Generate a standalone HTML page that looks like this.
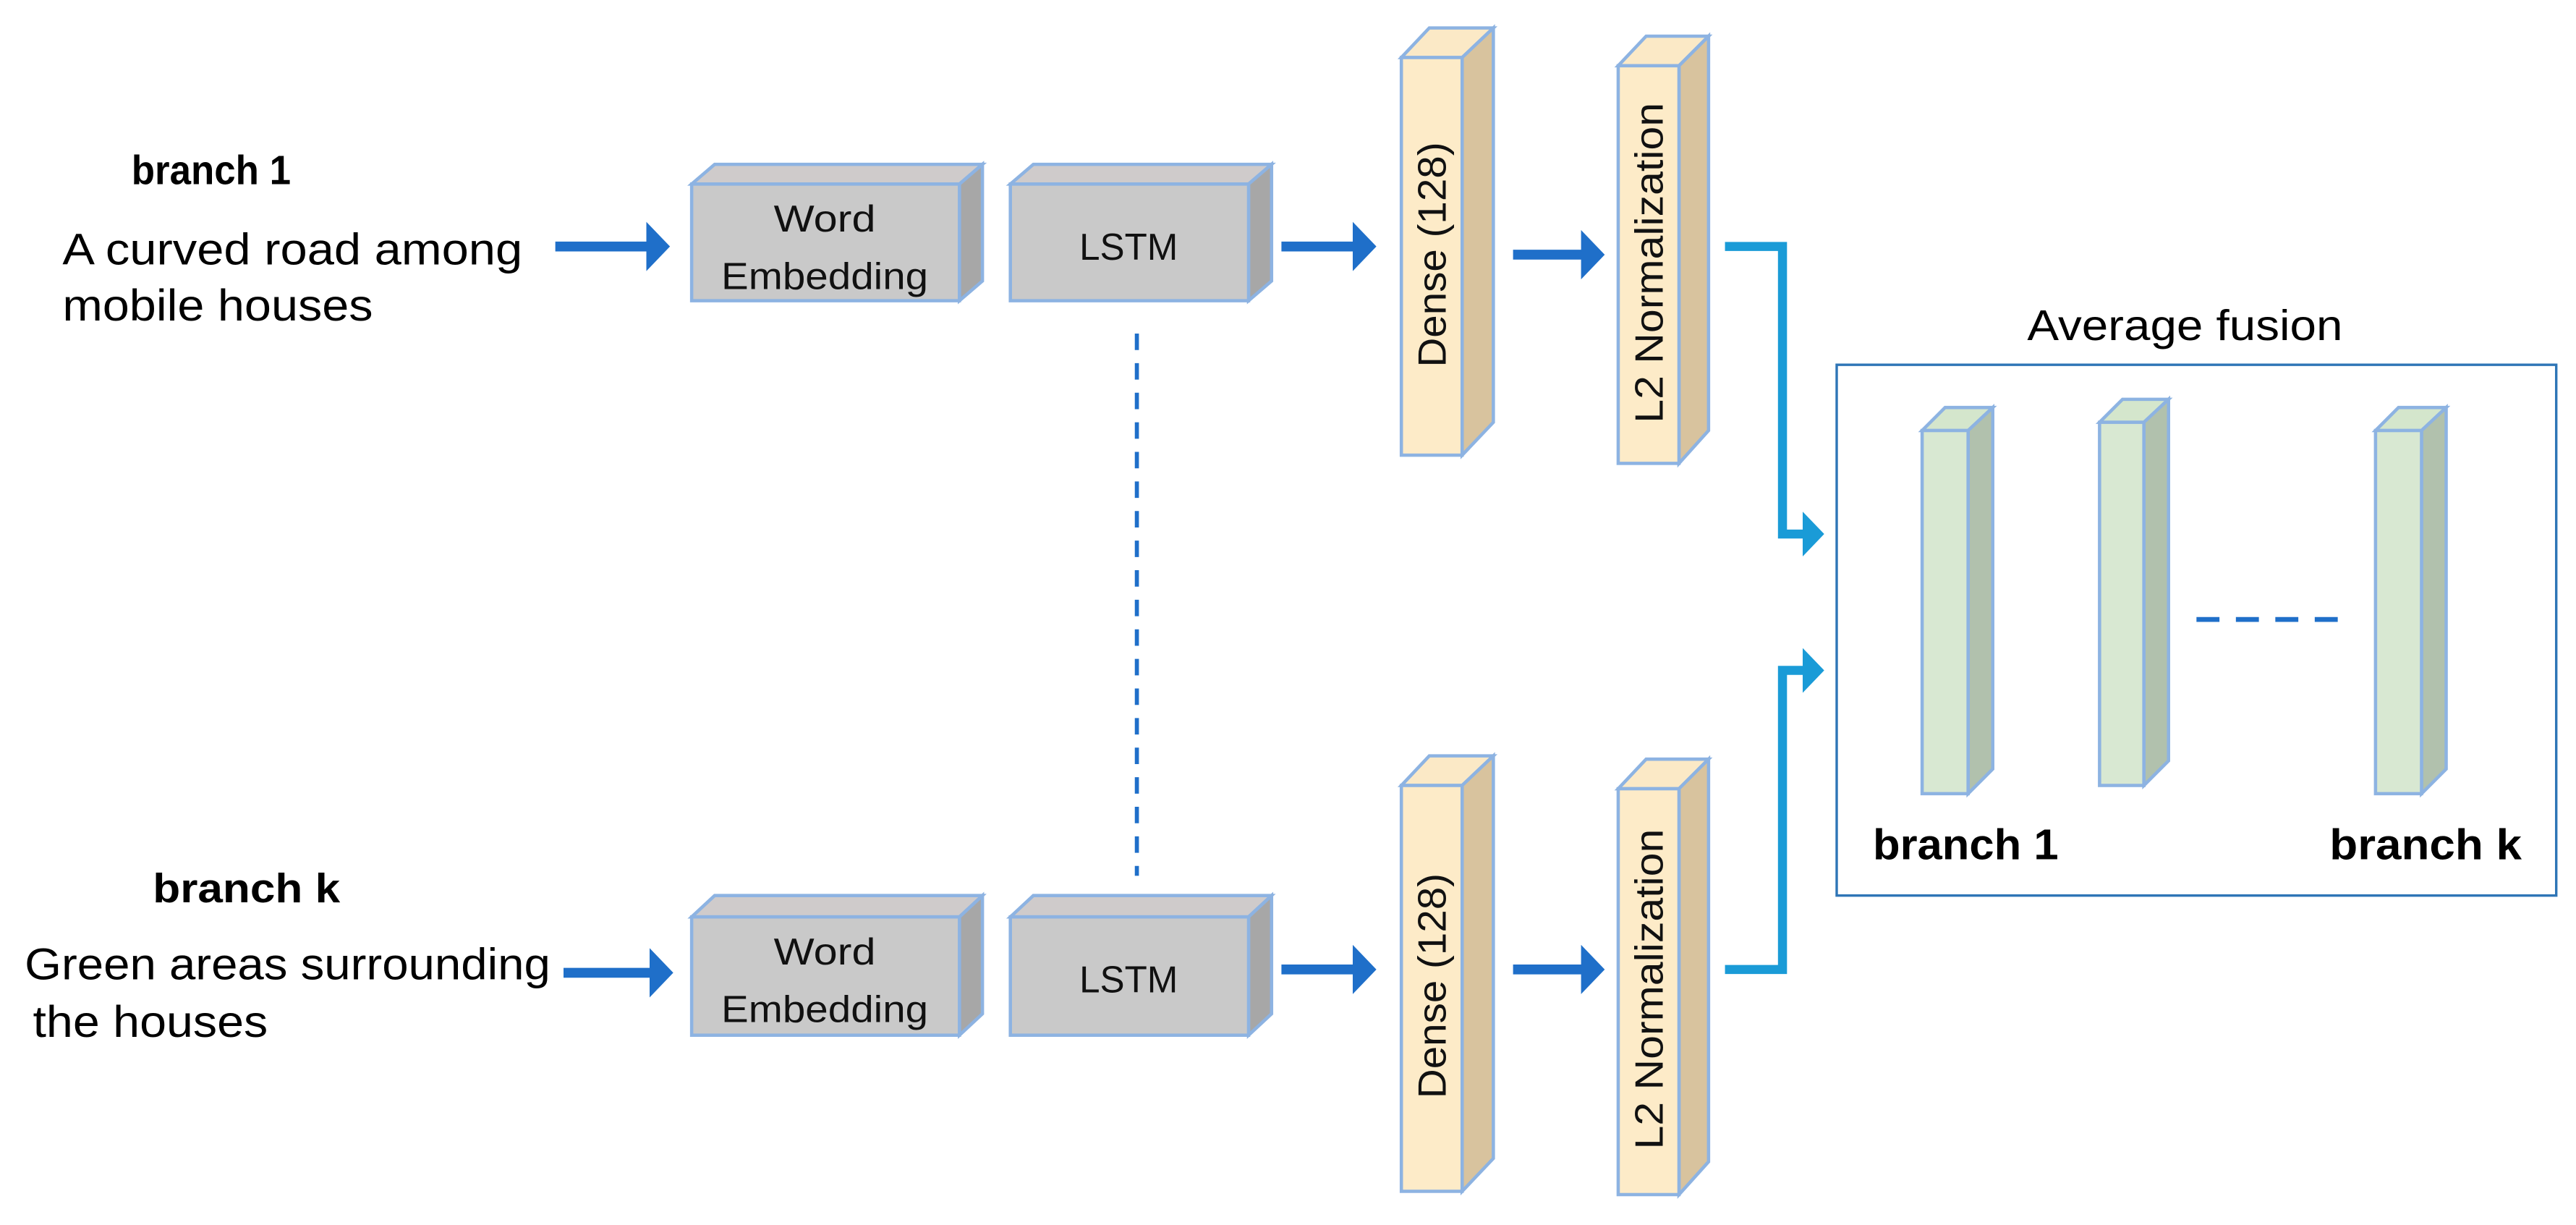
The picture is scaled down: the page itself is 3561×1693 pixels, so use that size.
<!DOCTYPE html>
<html><head><style>html,body{margin:0;padding:0;background:#fff}svg{display:block}</style></head>
<body>
<svg width="3561" height="1693" viewBox="0 0 1568 745.5" xmlns="http://www.w3.org/2000/svg" font-family="Liberation Sans, sans-serif">
<defs>
<marker id="ah" markerWidth="5" markerHeight="5" refX="1.6" refY="2.5" orient="auto" markerUnits="strokeWidth"><path d="M0,0 L2.4,2.5 L0,5 Z" fill="#1f6fc9"/></marker>
<marker id="ah2" markerWidth="5" markerHeight="5" refX="1.6" refY="2.5" orient="auto" markerUnits="strokeWidth"><path d="M0,0 L2.4,2.5 L0,5 Z" fill="#1a9bd7"/></marker>
</defs>
<g fill="#000" font-size="25">
<text x="80" y="112" font-weight="bold" textLength="97" lengthAdjust="spacingAndGlyphs">branch 1</text>
<text x="38" y="161" font-size="27" textLength="280" lengthAdjust="spacingAndGlyphs">A curved road among</text>
<text x="38" y="195" font-size="27" textLength="189" lengthAdjust="spacingAndGlyphs">mobile houses</text>
<text x="93" y="549" font-weight="bold" textLength="114" lengthAdjust="spacingAndGlyphs">branch k</text>
<text x="15" y="596" font-size="27" textLength="320" lengthAdjust="spacingAndGlyphs">Green areas surrounding</text>
<text x="20" y="631" font-size="27" textLength="143" lengthAdjust="spacingAndGlyphs">the houses</text>
</g>
<g stroke="#1f6fc9" stroke-width="6" marker-end="url(#ah)">
<line x1="338" y1="150" x2="403" y2="150"/>
<line x1="780" y1="150" x2="833" y2="150"/>
<line x1="921" y1="155" x2="972" y2="155"/>
<line x1="343" y1="592" x2="405" y2="592"/>
<line x1="780" y1="590" x2="833" y2="590"/>
<line x1="921" y1="590" x2="972" y2="590"/>
</g>
<g stroke="#8db3e2" stroke-width="2">
<polygon points="421,112 435,100 598,100 584,112" fill="#cfcbcb"/>
<polygon points="584,112 598,100 598,171 584,183" fill="#a7a7a7"/>
<rect x="421" y="112" width="163" height="71" fill="#c9c9c9"/>
<polygon points="615,112 629,100 774,100 760,112" fill="#cfcbcb"/>
<polygon points="760,112 774,100 774,171 760,183" fill="#a7a7a7"/>
<rect x="615" y="112" width="145" height="71" fill="#c9c9c9"/>
<polygon points="421,558 435,545 598,545 584,558" fill="#cfcbcb"/>
<polygon points="584,558 598,545 598,617 584,630" fill="#a7a7a7"/>
<rect x="421" y="558" width="163" height="72" fill="#c9c9c9"/>
<polygon points="615,558 629,545 774,545 760,558" fill="#cfcbcb"/>
<polygon points="760,558 774,545 774,617 760,630" fill="#a7a7a7"/>
<rect x="615" y="558" width="145" height="72" fill="#c9c9c9"/>
<polygon points="853,35 870,17 909,17 890,35" fill="#fbe9c6"/>
<polygon points="890,35 909,17 909,257 890,277" fill="#d8c39e"/>
<rect x="853" y="35" width="37" height="242" fill="#fdebc8"/>
<polygon points="985,40 1002,22 1040,22 1022,40" fill="#fbe9c6"/>
<polygon points="1022,40 1040,22 1040,262 1022,282" fill="#d8c39e"/>
<rect x="985" y="40" width="37" height="242" fill="#fdebc8"/>
<polygon points="853,478 870,460 909,460 890,478" fill="#fbe9c6"/>
<polygon points="890,478 909,460 909,705 890,725" fill="#d8c39e"/>
<rect x="853" y="478" width="37" height="247" fill="#fdebc8"/>
<polygon points="985,480 1002,462 1040,462 1022,480" fill="#fbe9c6"/>
<polygon points="1022,480 1040,462 1040,707 1022,727" fill="#d8c39e"/>
<rect x="985" y="480" width="37" height="247" fill="#fdebc8"/>
</g>
<g font-size="23" fill="#111" text-anchor="middle">
<text x="502" y="141" textLength="62" lengthAdjust="spacingAndGlyphs">Word</text><text x="502" y="176" textLength="126" lengthAdjust="spacingAndGlyphs">Embedding</text>
<text x="687" y="158" textLength="60" lengthAdjust="spacingAndGlyphs">LSTM</text>
<text x="502" y="587" textLength="62" lengthAdjust="spacingAndGlyphs">Word</text><text x="502" y="622" textLength="126" lengthAdjust="spacingAndGlyphs">Embedding</text>
<text x="687" y="604" textLength="60" lengthAdjust="spacingAndGlyphs">LSTM</text>
<text transform="translate(880,155) rotate(-90)" font-size="24" textLength="137" lengthAdjust="spacingAndGlyphs">Dense (128)</text>
<text transform="translate(1012,160) rotate(-90)" font-size="24" textLength="195" lengthAdjust="spacingAndGlyphs">L2 Normalization</text>
<text transform="translate(880,600) rotate(-90)" font-size="24" textLength="137" lengthAdjust="spacingAndGlyphs">Dense (128)</text>
<text transform="translate(1012,602) rotate(-90)" font-size="24" textLength="195" lengthAdjust="spacingAndGlyphs">L2 Normalization</text>
</g>
<line x1="692" y1="203" x2="692" y2="533" stroke="#1f6fc9" stroke-width="2.5" stroke-dasharray="10,8"/>
<g fill="none" stroke="#1a9bd7" stroke-width="5.5">
<polyline points="1050,150 1085,150 1085,325 1106,325" marker-end="url(#ah2)"/>
<polyline points="1050,590 1085,590 1085,408 1106,408" marker-end="url(#ah2)"/>
</g>
<text x="1330" y="207" font-size="26" text-anchor="middle" textLength="192" lengthAdjust="spacingAndGlyphs">Average fusion</text>
<rect x="1118" y="222" width="438" height="323" fill="none" stroke="#2e75b6" stroke-width="1.5"/>
<g stroke="#8db3e2" stroke-width="2">
<polygon points="1170,262 1184,248 1213,248 1198,262" fill="#d4e6cc"/>
<polygon points="1198,262 1213,248 1213,468 1198,483" fill="#b1c1ad"/>
<rect x="1170" y="262" width="28" height="221" fill="#d8e8d2"/>
<polygon points="1278,257 1292,243 1320,243 1305,257" fill="#d4e6cc"/>
<polygon points="1305,257 1320,243 1320,463 1305,478" fill="#b1c1ad"/>
<rect x="1278" y="257" width="27" height="221" fill="#d8e8d2"/>
<polygon points="1446,262 1460,248 1489,248 1474,262" fill="#d4e6cc"/>
<polygon points="1474,262 1489,248 1489,468 1474,483" fill="#b1c1ad"/>
<rect x="1446" y="262" width="28" height="221" fill="#d8e8d2"/>
</g>
<line x1="1337" y1="377" x2="1430" y2="377" stroke="#1f6fc9" stroke-width="3" stroke-dasharray="14,10"/>
<g font-size="26" font-weight="bold">
<text x="1140" y="523" textLength="113" lengthAdjust="spacingAndGlyphs">branch 1</text>
<text x="1418" y="523" textLength="117" lengthAdjust="spacingAndGlyphs">branch k</text>
</g>
</svg>
</body></html>
